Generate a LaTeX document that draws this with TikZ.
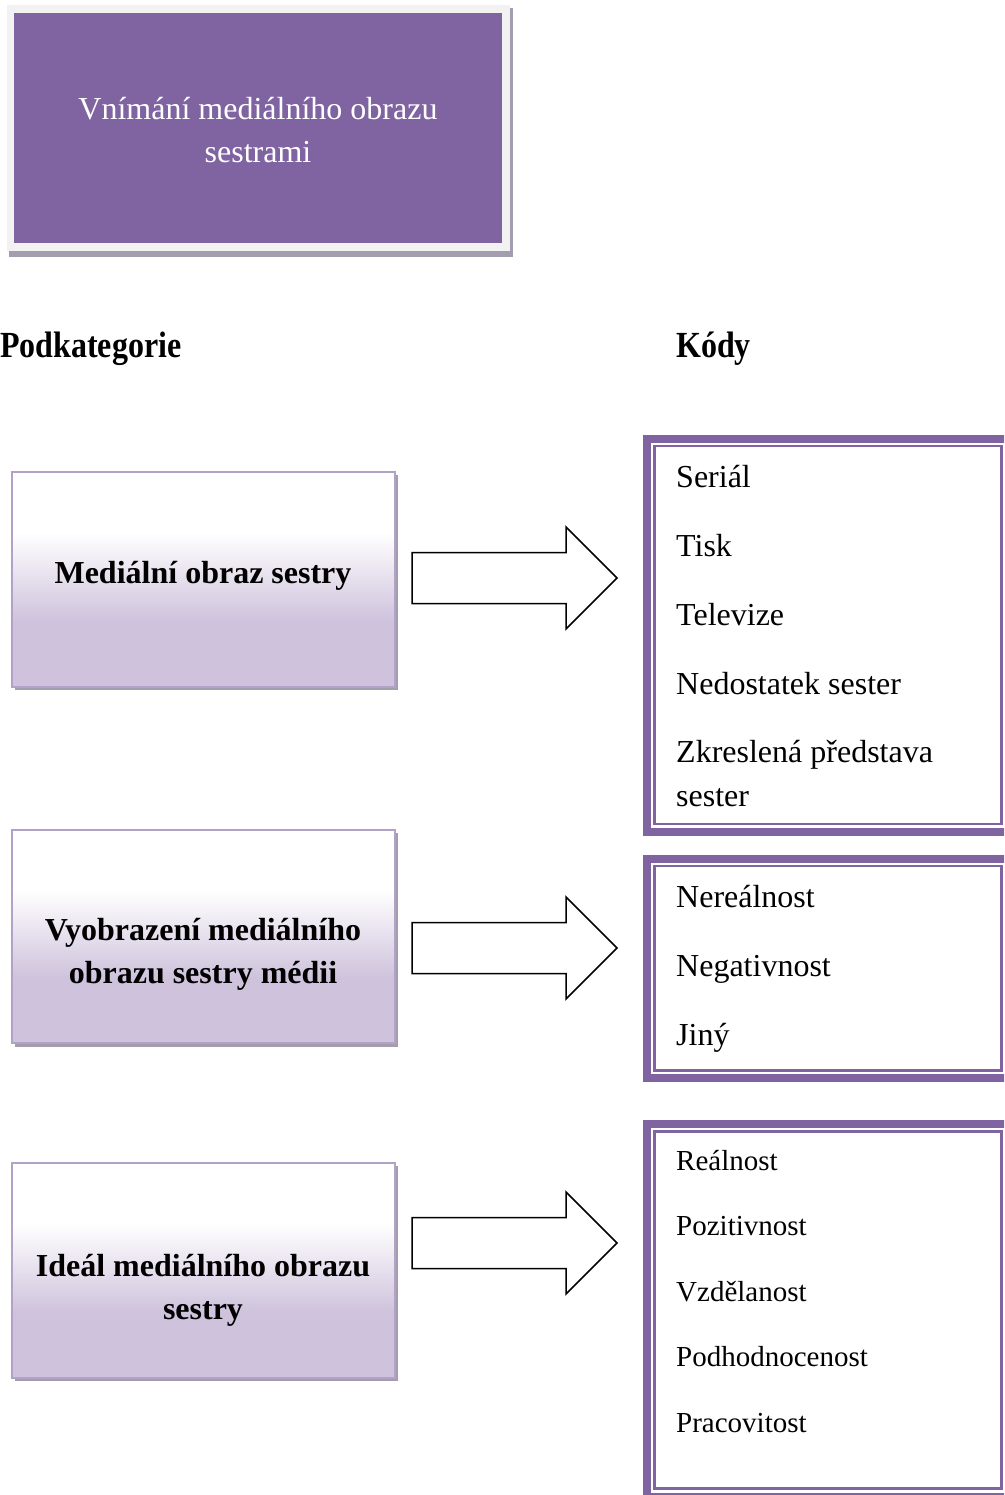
\documentclass[tikz,border=0pt]{standalone}
\usepackage{fontspec}
\setmainfont{Liberation Serif}
\definecolor{accpurple}{RGB}{128,100,162}
\definecolor{lavborder}{RGB}{179,162,199}
\definecolor{lavfill}{RGB}{206,194,220}
\definecolor{shadowgray}{RGB}{163,157,175}
\definecolor{framegray}{RGB}{242,242,242}
\pgfdeclareverticalshading{lboxshade}{100bp}{color(0bp)=(lavfill); color(40bp)=(lavfill); color(61bp)=(white); color(100bp)=(white)}
\begin{document}
\begin{tikzpicture}[x=1pt,y=-1pt,
  big/.style={font=\fontsize{32}{43}\selectfont, inner sep=0pt},
  bigbold/.style={font=\fontsize{32}{43}\selectfont\bfseries, inner sep=0pt, anchor=base},
  codetxt/.style={font=\fontsize{32}{43}\selectfont, inner sep=0pt, anchor=base west},
  codesmall/.style={font=\fontsize{29}{39}\selectfont, inner sep=0pt, anchor=base west},
  lbox/.style={draw=lavborder, line width=1.5pt, shading=lboxshade, minimum width=383pt, minimum height=215pt, inner sep=0pt},
  shadowbox/.style={fill=shadowgray},
  thickedge/.style={draw=accpurple, line width=8pt},
  thinedge/.style={draw=accpurple, line width=2.5pt},
  blockarrow/.style={draw=black, line width=1.5pt, fill=white, line join=miter}]
\useasboundingbox (0,0) rectangle (1004,1495);
\clip (0,0) rectangle (1004,1495);
\fill[white] (0,0) rectangle (1004,1495);

% title box
\fill[shadowgray] (9,8) rectangle (513,257);
\fill[framegray] (7,5) rectangle (510,251);
\node[fill=accpurple, minimum width=488pt, minimum height=230pt, inner sep=0pt] (title) at (258,128) {};
\node[big, anchor=base, text=white] (t1) at (258,120) {Vnímání mediálního obrazu};
\node[big, anchor=base, text=white] (t2) at (258,163) {sestrami};

% headers
\node[inner sep=0pt, anchor=base west, font=\fontsize{32}{43}\selectfont\bfseries] (h1) at (0,357) {\scalebox{1}[1.15]{Podkategorie}};
\node[inner sep=0pt, anchor=base west, font=\fontsize{32}{43}\selectfont\bfseries] (h2) at (676,357) {\scalebox{1}[1.15]{Kódy}};

% left boxes
\fill[shadowbox] (15,475) rectangle (398,690);
\node[lbox] (p1) at (203.5,579.5) {};
\node[bigbold] (p1a) at (203,583) {Mediální obraz sestry};

\fill[shadowbox] (15,833) rectangle (398,1047);
\node[lbox, minimum height=213pt] (p2) at (203.5,936.5) {};
\node[bigbold] (p2a) at (203,940) {Vyobrazení mediálního};
\node[bigbold] (p2b) at (203,983) {obrazu sestry médii};

\fill[shadowbox] (15,1166) rectangle (398,1381);
\node[lbox] (p3) at (203.5,1270.5) {};
\node[bigbold] (p3a) at (203,1276) {Ideál mediálního obrazu};
\node[bigbold] (p3b) at (203,1319) {sestry};

% block arrows
\foreach \n/\yc in {a1/578, a2/948, a3/1243} {
  \draw[blockarrow] (412,\yc-25.5) -- (566,\yc-25.5) -- (566,\yc-51) -- (617,\yc)
    -- (566,\yc+51) -- (566,\yc+25.5) -- (412,\yc+25.5) -- cycle;
}

% right boxes
\draw[thickedge] (647,439) rectangle (1009,832);
\draw[thinedge] (654.5,446) rectangle (1001.5,824);
\node[codetxt] (c1) at (676,487) {Seriál};
\node[codetxt] (c2) at (676,556) {Tisk};
\node[codetxt] (c3) at (676,625) {Televize};
\node[codetxt] (c4) at (676,694) {Nedostatek sester};
\node[codetxt] (c5) at (676,762) {Zkreslená představa};
\node[codetxt] (c6) at (676,806) {sester};

\draw[thickedge] (647,859) rectangle (1009,1078);
\draw[thinedge] (654.5,866) rectangle (1001.5,1070.5);
\node[codetxt] (d1) at (676,907) {Nereálnost};
\node[codetxt] (d2) at (676,976) {Negativnost};
\node[codetxt] (d3) at (676,1045) {Jiný};

\draw[thickedge] (647,1124) rectangle (1009,1497);
\draw[thinedge] (654.5,1131.5) rectangle (1001.5,1488.5);
\node[codesmall] (e1) at (676,1170) {Reálnost};
\node[codesmall] (e2) at (676,1235.5) {Pozitivnost};
\node[codesmall] (e3) at (676,1301) {Vzdělanost};
\node[codesmall] (e4) at (676,1366.5) {Podhodnocenost};
\node[codesmall] (e5) at (676,1432) {Pracovitost};
\end{tikzpicture}
\end{document}
